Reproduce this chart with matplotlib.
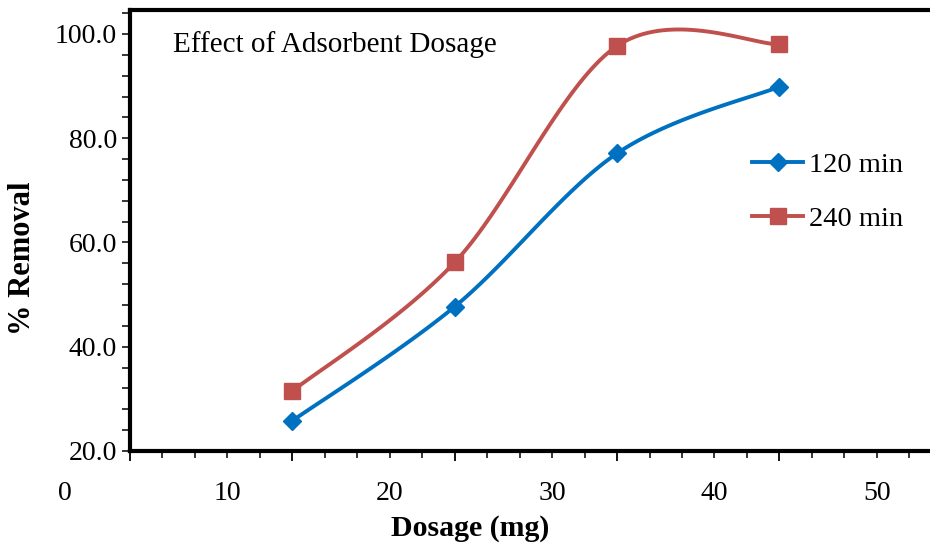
import matplotlib
matplotlib.use("Agg")
import matplotlib.pyplot as plt
import matplotlib.transforms as mtransforms
import numpy as np

# dosage in mg and % removal
dosage = [14, 24, 34, 44]
removal_120 = [25.8, 47.7, 77.1, 89.9]
removal_240 = [31.5, 56.2, 97.7, 98.0]
series_names = ['120 min', '240 min']
x_labels = [0, 10, 20, 30, 40, 50]
y_ticks = [20, 40, 60, 80, 100]

plt.rcParams['font.family'] = ['Liberation Serif', 'DejaVu Serif']


def smooth(xs, ys, n=40):
    # Catmull-Rom through the points, like a spreadsheet "smoothed line"
    pts = np.column_stack([xs, ys]).astype(float)
    pts = np.vstack([pts[0], pts, pts[-1]])
    out = []
    for i in range(1, len(pts) - 2):
        p0, p1, p2, p3 = pts[i - 1], pts[i], pts[i + 1], pts[i + 2]
        b1 = p1 + (p2 - p0) / 6
        b2 = p2 - (p3 - p1) / 6
        t = np.linspace(0, 1, n)[:, None]
        seg = ((1 - t) ** 3) * p1 + 3 * ((1 - t) ** 2) * t * b1 \
            + 3 * (1 - t) * t ** 2 * b2 + t ** 3 * p2
        out.append(seg if i == 1 else seg[1:])
    out = np.vstack(out)
    return out[:, 0], out[:, 1]


fig = plt.figure(figsize=(9.3, 5.47), dpi=100)
ax = fig.add_axes([130 / 930, 1 - 451 / 547, 798 / 930, (451 - 10) / 547])

blue = '#0070C0'
red = '#C0504D'

sx, sy = smooth(dosage, removal_120)
ax.plot(sx, sy, color=blue, lw=2.8, solid_capstyle='round')
ax.plot(dosage, removal_120, 'D', color=blue, ms=9.5, mec=blue)
sx, sy = smooth(dosage, removal_240)
ax.plot(sx, sy, color=red, lw=2.8, solid_capstyle='round')
ax.plot(dosage, removal_240, 's', color=red, ms=11.5, mec=red)

# legend handles
h1, = ax.plot([], [], '-D', color=blue, lw=2.8, ms=9.5)
h2, = ax.plot([], [], '-s', color=red, lw=2.8, ms=11.5)
leg = ax.legend([h1, h2], series_names, loc='center left',
                bbox_to_anchor=(752 / 930, 1 - 192 / 547),
                bbox_transform=fig.transFigure, frameon=False,
                fontsize=20.5, handlelength=1.8, handletextpad=0.2,
                labelspacing=1.0, borderaxespad=0, borderpad=0)

ax.set_xlim(4, 53.15)
ax.set_ylim(20, 104.6)

ax.set_xticks(np.arange(4, 54, 10))
ax.set_xticks(np.arange(4, 54, 2), minor=True)
ax.set_xticklabels([])
ax.set_yticks(y_ticks)
ax.set_yticks(np.arange(20, 105, 4), minor=True)
ax.set_yticklabels([f'{v:.1f}' for v in y_ticks], fontsize=20)

ax.tick_params(axis='x', which='major', length=7.5, width=1.3, direction='out')
ax.tick_params(axis='x', which='minor', length=5, width=1.1, direction='out')
ax.tick_params(axis='y', which='both', length=5.5, width=1.1, direction='out', pad=4)

for s in ['left', 'bottom', 'top']:
    ax.spines[s].set_linewidth(3)
ax.spines['right'].set_visible(False)

# x labels sit at their true values, the axis starts at 4
trans = mtransforms.blended_transform_factory(ax.transData, ax.transAxes)
for v in x_labels:
    ax.text(v, -0.097, str(v), transform=trans, ha='center', va='center',
            fontsize=20, clip_on=False)

fig.text(470 / 930, 1 - 528 / 547, 'Dosage (mg)', ha='center', va='center',
         fontsize=21.5, fontweight='bold')
fig.text(22 / 930, 1 - 258 / 547, '% Removal', ha='center', va='center',
         fontsize=22, fontweight='bold', rotation=90)
fig.text(173 / 930, 1 - 45 / 547, 'Effect of Adsorbent Dosage', ha='left',
         va='center', fontsize=21)

fig.savefig('out.png', dpi=100)
